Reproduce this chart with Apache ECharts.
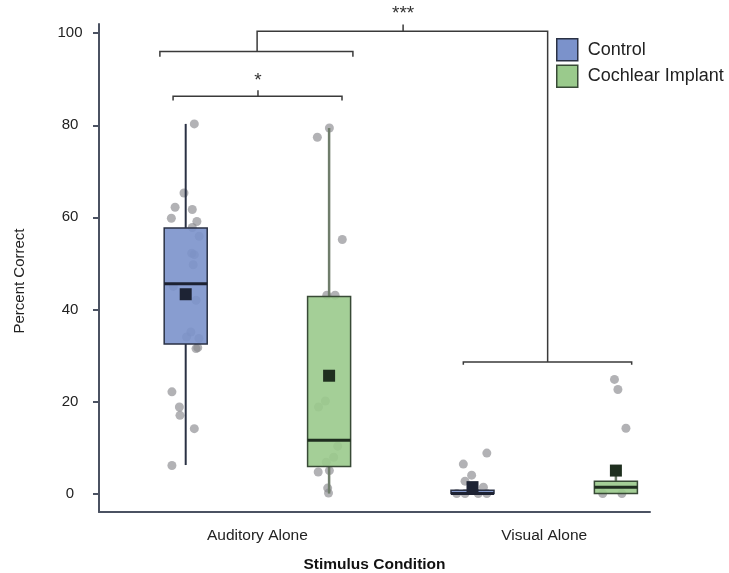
<!DOCTYPE html>
<html><head><meta charset="utf-8">
<script src="https://cdn.jsdelivr.net/npm/echarts@6/dist/echarts.min.js"></script>
<style>html,body{margin:0;padding:0;background:#fff}#c{width:729px;height:573px}</style>
</head><body><div id="c"></div>
<script>
// ---------- data ----------
const categories = ['Auditory Alone', 'Visual Alone'];
const groups = ['Control', 'Cochlear Implant'];
const yTicks = [0, 20, 40, 60, 80, 100];

// box stats per condition: [low whisker, Q1, median, Q3, high whisker]
const controlBox = [[6.2, 32.5, 45.6, 57.7, 80.3], [0, 0, 0, 0.7, 1.4]];
const ciBox      = [[0, 5.9, 11.6, 42.8, 79.4],    [0, 0, 1.4, 2.7, 4.5]];
const controlMean = [43.3, 1.4];
const ciMean      = [25.6, 5.0];

// individual scores and their horizontal jitter (axis units)
const controlAuditory = [80.3,65.3,62.2,61.7,59.8,59.1,57.8,55.9,52.2,51.9,49.7,45.0,42.0,35.1,34.0,33.7,31.7,31.5,22.1,18.8,17.0,14.1,6.1];
const controlAuditoryJitter = [0.030,-0.006,-0.037,0.023,-0.050,0.039,0.023,0.047,0.021,0.030,0.026,-0.043,0.036,0.018,0.003,0.046,0.042,0.036,-0.048,-0.022,-0.020,0.030,-0.048];
const ciAuditory = [79.4,77.4,55.2,43.1,43.1,20.1,18.8,10.3,7.9,6.8,4.7,5.0,1.2,0.1];
const ciAuditoryJitter = [0.001,-0.041,0.046,-0.008,0.021,-0.013,-0.037,0.030,0.016,-0.010,-0.038,0.001,-0.005,-0.002];
const controlVisual = [8.8,6.4,4.0,2.7,1.4,0,0,0,0];
const controlVisualJitter = [0.050,-0.032,-0.003,-0.026,0.038,-0.055,-0.026,0.020,0.050];
const ciVisual = [24.8,22.6,14.2,0,0];
const ciVisualJitter = [-0.005,0.007,0.035,-0.046,0.021];

// significance brackets (axis units): [xLeft, xRight, yBar, yEnds]
const sigBrackets = [[0.706, 1.295, 86.3, 85.4], [0.660, 1.333, 96.0, 94.9], [1.718, 2.305, 28.6, 28.0]];
const sigConnectors = [
  [[1.002, 86.3], [1.002, 87.6]],
  [[0.999, 96.0], [0.999, 100.4], [2.012, 100.4], [2.012, 28.6]],
  [[1.508, 100.4], [1.508, 101.9]]
];
const sigLabels = [[1.002, 89.6, '*'], [1.508, 104.3, '***']];

// ---------- layout / style ----------
const groupOffset = [-0.25, 0.25];
const boxWidth = 0.15;
const FONT = '"Liberation Sans", Arial, sans-serif';
const axisColor = '#4b5262';
const styles = {
  'Control': {fill: 'rgba(123,146,203,0.9)', solid: '#7b92cb', stroke: '#2a3144', whisker: '#2a3144', whiskerW: 2, median: '#1d2232', mean: '#1d2334'},
  'Cochlear Implant': {fill: 'rgba(154,202,140,0.9)', solid: '#9aca8c', stroke: '#384a36', whisker: '#6f7d6b', whiskerW: 2.5, median: '#1f2e1f', mean: '#1f2f1f'}
};

function boxData(stats, means, gi) {
  return stats.map((s, ci) => [ci + 1 + groupOffset[gi], s[0], s[1], s[2], s[3], s[4], means[ci]]);
}
function pointData(vals, jit, ci, gi) {
  return vals.map((v, i) => [ci + 1 + groupOffset[gi] + jit[i], v]);
}
const allPoints = [].concat(
  pointData(controlAuditory, controlAuditoryJitter, 0, 0),
  pointData(ciAuditory, ciAuditoryJitter, 0, 1),
  pointData(controlVisual, controlVisualJitter, 1, 0),
  pointData(ciVisual, ciVisualJitter, 1, 1)
);

function boxRender(st) {
  return function (params, api) {
    const x = api.value(0);
    const lo = api.coord([x, api.value(1)]);
    const q1 = api.coord([x, api.value(2)]);
    const med = api.coord([x, api.value(3)]);
    const q3 = api.coord([x, api.value(4)]);
    const hi = api.coord([x, api.value(5)]);
    const mn = api.coord([x, api.value(6)]);
    const w = api.size([boxWidth, 0])[0];
    return {type: 'group', children: [
      {type: 'line', shape: {x1: lo[0], y1: lo[1], x2: q1[0], y2: q1[1]}, style: {stroke: st.whisker, lineWidth: st.whiskerW}},
      {type: 'line', shape: {x1: q3[0], y1: q3[1], x2: hi[0], y2: hi[1]}, style: {stroke: st.whisker, lineWidth: st.whiskerW}},
      {type: 'rect', shape: {x: q3[0] - w / 2, y: q3[1], width: w, height: q1[1] - q3[1]}, style: {fill: st.fill, stroke: st.stroke, lineWidth: 1.5}},
      {type: 'line', shape: {x1: med[0] - w / 2, y1: med[1], x2: med[0] + w / 2, y2: med[1]}, style: {stroke: st.median, lineWidth: 3}},
      {type: 'rect', shape: {x: mn[0] - 6, y: mn[1] - 6, width: 12, height: 12}, style: {fill: st.mean}}
    ]};
  };
}

function bracketRender(params, api) {
  const i = params.dataIndex;
  const children = [];
  const lc = {stroke: '#3a3a3a', lineWidth: 1.5, fill: null};
  if (i < sigBrackets.length) {
    const b = sigBrackets[i];
    const pts = [api.coord([b[0], b[3]]), api.coord([b[0], b[2]]), api.coord([b[1], b[2]]), api.coord([b[1], b[3]])];
    children.push({type: 'polyline', shape: {points: pts}, style: lc});
  }
  if (i < sigConnectors.length) {
    children.push({type: 'polyline', shape: {points: sigConnectors[i].map(p => api.coord(p))}, style: lc});
  }
  if (i < sigLabels.length) {
    const l = sigLabels[i];
    const p = api.coord([l[0], l[1]]);
    children.push({type: 'text', x: p[0], y: p[1], style: {text: l[2], font: '19px ' + FONT, fill: '#333', align: 'center', verticalAlign: 'middle'}});
  }
  return {type: 'group', children};
}

const chart = echarts.init(document.getElementById('c'), null, {renderer: 'canvas'});
chart.setOption({
  animation: false,
  backgroundColor: '#fff',
  textStyle: {fontFamily: FONT},
  grid: {left: 99, right: 79, top: 24, bottom: 61, containLabel: false, outerBoundsMode: 'none'},
  legend: {
    orient: 'vertical', left: 556, top: 38, padding: 0, itemWidth: 21, itemHeight: 22, itemGap: 3,
    selectedMode: false, icon: 'rect',
    textStyle: {fontSize: 18, color: '#222', fontFamily: FONT, padding: [0, 0, 0, 5]},
    data: groups.map(g => ({name: g, itemStyle: {color: styles[g].solid, borderColor: styles[g].stroke, borderWidth: 1.5}}))
  },
  graphic: [{
    type: 'text', x: 20, y: 281, rotation: Math.PI / 2,
    style: {text: 'Percent Correct', font: '15px ' + FONT, fill: '#222', align: 'center', verticalAlign: 'middle'}
  }],
  xAxis: {
    type: 'value', min: 0.4477, max: 2.3689,
    splitLine: {show: false},
    axisLine: {show: true, onZero: false, lineStyle: {color: axisColor, width: 2}},
    axisTick: {show: false},
    axisLabel: {customValues: [1, 2], formatter: v => categories[Math.round(v) - 1], fontSize: 15.5, color: '#222', margin: 16},
    name: 'Stimulus Condition', nameLocation: 'middle', nameGap: 45,
    nameTextStyle: {fontSize: 15.5, fontWeight: 'bold', color: '#111'}
  },
  yAxis: {
    type: 'value', min: -4, max: 102,
    splitLine: {show: false},
    axisLine: {show: true, onZero: false, lineStyle: {color: axisColor, width: 2}},
    axisTick: {show: true, length: 6, customValues: yTicks, lineStyle: {color: axisColor, width: 2}},
    axisLabel: {customValues: yTicks, fontSize: 15, color: '#222', align: 'center', margin: 29}
  },
  series: [
    {type: 'scatter', name: 'points', data: allPoints, symbolSize: 9, z: 1, silent: true,
     itemStyle: {color: 'rgba(135,135,140,0.8)'}},
    {type: 'custom', name: 'Control', z: 3, data: boxData(controlBox, controlMean, 0),
     encode: {x: 0, y: [1, 2, 3, 4, 5, 6]}, renderItem: boxRender(styles['Control']),
     itemStyle: {color: styles['Control'].solid}},
    {type: 'custom', name: 'Cochlear Implant', z: 3, data: boxData(ciBox, ciMean, 1),
     encode: {x: 0, y: [1, 2, 3, 4, 5, 6]}, renderItem: boxRender(styles['Cochlear Implant']),
     itemStyle: {color: styles['Cochlear Implant'].solid}},
    {type: 'custom', name: 'brackets', z: 4, silent: true, clip: false,
     data: sigConnectors.map((c, i) => [i]), encode: {x: 0, y: 0},
     renderItem: bracketRender}
  ]
});
</script></body></html>
